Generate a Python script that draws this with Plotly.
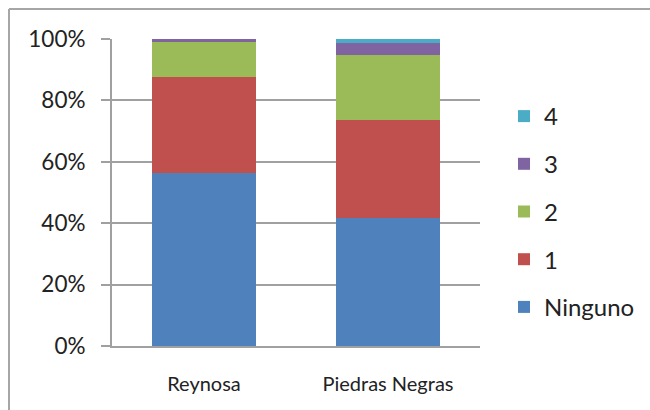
import plotly.graph_objects as go

cities = ["Reynosa", "Piedras Negras"]
series_names = ["Ninguno", "1", "2", "3", "4"]
ninguno = [56.2, 41.6]
uno = [31.5, 32.0]
dos = [11.3, 21.1]
tres = [1.0, 4.1]
cuatro = [0.0, 1.2]
y_ticks = [0, 20, 40, 60, 80, 100]
y_tick_labels = ["0%", "20%", "40%", "60%", "80%", "100%"]

colors = ["#4F81BD", "#C0504D", "#9BBB59", "#8064A2", "#4BACC6"]
values = [ninguno, uno, dos, tres, cuatro]

fig = go.Figure()
for i, (name, vals, col) in enumerate(zip(series_names, values, colors)):
    fig.add_trace(go.Bar(
        x=cities, y=vals, name=name, legendgroup=name,
        legendrank=len(series_names) - i,
        marker=dict(color=col, line=dict(width=0)),
    ))

L, R, T, B = 112, 170, 39, 64
W, H = 650, 410
pw, ph = W - L - R, H - T - B

font = dict(family="Lato, 'Open Sans', sans-serif", size=20, color="#222222")

# outer chart frame (top and left edges; the others fall outside the picture)
fx0 = (9 - L) / pw
fy1 = (H - B - 9) / ph
frame = dict(color="#a6a6a6", width=2)

fig.update_layout(
    width=W, height=H,
    margin=dict(l=L, r=R, t=T, b=B, autoexpand=False),
    barmode="stack",
    bargap=0.43,
    plot_bgcolor="white",
    paper_bgcolor="white",
    font=font,
    showlegend=True,
    legend=dict(
        x=(504 - L) / pw, y=(346 - 94) / ph, xanchor="left", yanchor="top",
        traceorder="grouped", tracegroupgap=13.5,
        font=dict(size=24), itemwidth=30,
    ),
    xaxis=dict(
        showline=True, linecolor="#a0a0a0", linewidth=2,
        ticks="", ticklabelstandoff=19, automargin=False,
        tickfont=dict(size=20),
    ),
    yaxis=dict(
        range=[0, 100], tickvals=y_ticks, ticktext=y_tick_labels,
        showgrid=True, gridcolor="#a0a0a0", gridwidth=2,
        showline=True, linecolor="#a0a0a0", linewidth=2,
        ticks="outside", ticklen=9, tickcolor="#a0a0a0", tickwidth=2,
        ticklabelstandoff=11, zeroline=False, automargin=False,
        tickfont=dict(size=22.5),
    ),
    shapes=[
        dict(type="line", xref="paper", yref="paper",
             x0=fx0, x1=1.5, y0=fy1, y1=fy1, line=frame),
        dict(type="line", xref="paper", yref="paper",
             x0=fx0, x1=fx0, y0=-0.5, y1=fy1, line=frame),
    ],
)

fig.write_html(
    "out.html", config={"displayModeBar": False},
    post_script="document.body.style.margin='0';"
                "document.body.style.overflow='hidden';"
                "document.documentElement.style.overflow='hidden';",
)
